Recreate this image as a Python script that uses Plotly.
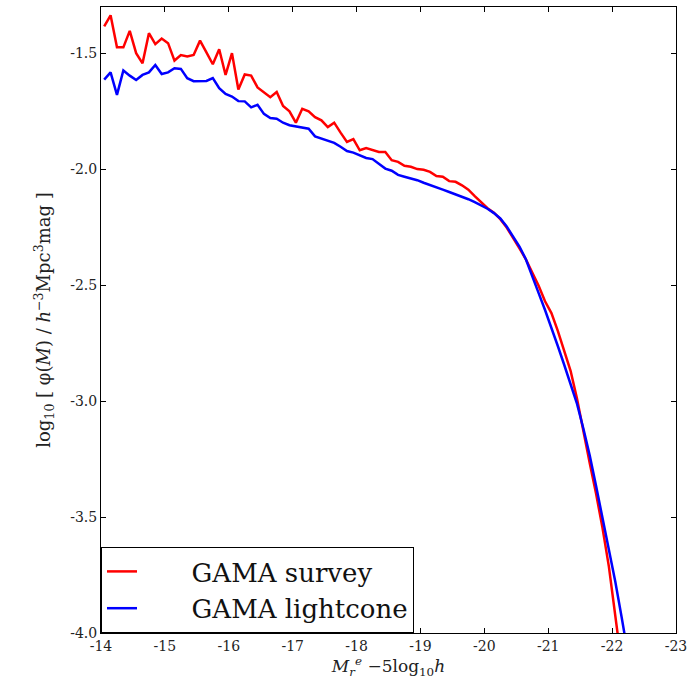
import plotly.graph_objects as go

# bin centres in absolute magnitude, 0.1 mag bins starting at -14.05
mag_survey = [round(-14.05 - 0.1 * i, 2) for i in range(82)]
mag_lightcone = [round(-14.05 - 0.1 * i, 2) for i in range(83)]

# log10 phi for the GAMA survey (red)
phi_survey = [
    -1.384, -1.336, -1.474, -1.474, -1.403, -1.499, -1.543, -1.413, -1.460, -1.436,
    -1.456, -1.531, -1.507, -1.513, -1.507, -1.445, -1.496, -1.547, -1.482, -1.593,
    -1.499, -1.656, -1.591, -1.596, -1.647, -1.667, -1.689, -1.667, -1.727, -1.750,
    -1.799, -1.739, -1.750, -1.775, -1.789, -1.818, -1.799, -1.842, -1.882, -1.870,
    -1.918, -1.908, -1.918, -1.925, -1.925, -1.961, -1.968, -1.985, -1.989, -1.999,
    -2.002, -2.011, -2.029, -2.032, -2.051, -2.054, -2.069, -2.088, -2.116, -2.144,
    -2.168, -2.187, -2.215, -2.251, -2.294, -2.341, -2.388, -2.444, -2.502, -2.569,
    -2.620, -2.697, -2.783, -2.869, -2.989, -3.135, -3.268, -3.401, -3.547, -3.715,
    -3.921, -4.137,
]

# log10 phi for the GAMA lightcone (blue)
phi_lightcone = [
    -1.613, -1.582, -1.679, -1.574, -1.596, -1.615, -1.593, -1.582, -1.550, -1.589,
    -1.582, -1.564, -1.567, -1.607, -1.620, -1.619, -1.619, -1.607, -1.650, -1.675,
    -1.686, -1.706, -1.707, -1.733, -1.722, -1.761, -1.779, -1.782, -1.799, -1.810,
    -1.815, -1.818, -1.825, -1.858, -1.868, -1.878, -1.886, -1.903, -1.921, -1.928,
    -1.939, -1.951, -1.956, -1.975, -1.997, -2.006, -2.024, -2.032, -2.039, -2.047,
    -2.058, -2.067, -2.077, -2.088, -2.098, -2.108, -2.118, -2.129, -2.142, -2.155,
    -2.170, -2.189, -2.212, -2.247, -2.290, -2.333, -2.388, -2.457, -2.534, -2.607,
    -2.680, -2.762, -2.843, -2.927, -3.011, -3.118, -3.234, -3.367, -3.500, -3.642,
    -3.779, -3.933, -4.094,
]

x_ticks = [-14, -15, -16, -17, -18, -19, -20, -21, -22, -23]
y_ticks = [-4.0, -3.5, -3.0, -2.5, -2.0, -1.5]

fnt = "DejaVu Serif"
pad = "&nbsp;" * 6

fig = go.Figure()
fig.add_trace(go.Scatter(x=mag_survey, y=phi_survey, mode="lines",
                         name=pad + "GAMA survey",
                         line=dict(color="#ff0000", width=2.5)))
fig.add_trace(go.Scatter(x=mag_lightcone, y=phi_lightcone, mode="lines",
                         name=pad + "GAMA lightcone",
                         line=dict(color="#0000ff", width=2.5)))

axis_style = dict(showline=True, linecolor="black", linewidth=1, mirror="ticks",
                  ticks="inside", ticklen=5, tickcolor="black", showgrid=False,
                  zeroline=False, tickfont=dict(family=fnt, size=14, color="#222"))

fig.update_xaxes(range=[-14, -23], tickvals=x_ticks, ticktext=[str(t) for t in x_ticks],
                 title=dict(text="<i>M</i><sub><i>r</i></sub><sup><i>e</i></sup> −5log<sub>10</sub><i>h</i>",
                            font=dict(family=fnt, size=17, color="#222"), standoff=6),
                 **axis_style)
fig.update_yaxes(range=[-4.0, -1.3], tickvals=y_ticks, ticktext=["%.1f" % t for t in y_ticks],
                 title=dict(text="log<sub>10</sub> [ φ(<i>M</i>) / <i>h</i><sup>−3</sup>Mpc<sup>3</sup>mag ]",
                            font=dict(family=fnt, size=18, color="#222"), standoff=14),
                 **axis_style)

fig.update_layout(
    width=693, height=689,
    margin=dict(l=101, r=12, t=6, b=56),
    plot_bgcolor="white", paper_bgcolor="white",
    showlegend=True,
    legend=dict(x=0, y=0, xanchor="left", yanchor="bottom",
                bgcolor="white", bordercolor="black", borderwidth=1,
                font=dict(family=fnt, size=26, color="#111"),
                tracegroupgap=4),
)

# drop the default 8px body margin so the figure sits at the window corner
fig.write_html("out.html", config={"displayModeBar": False},
               post_script="document.body.style.margin='0';")
